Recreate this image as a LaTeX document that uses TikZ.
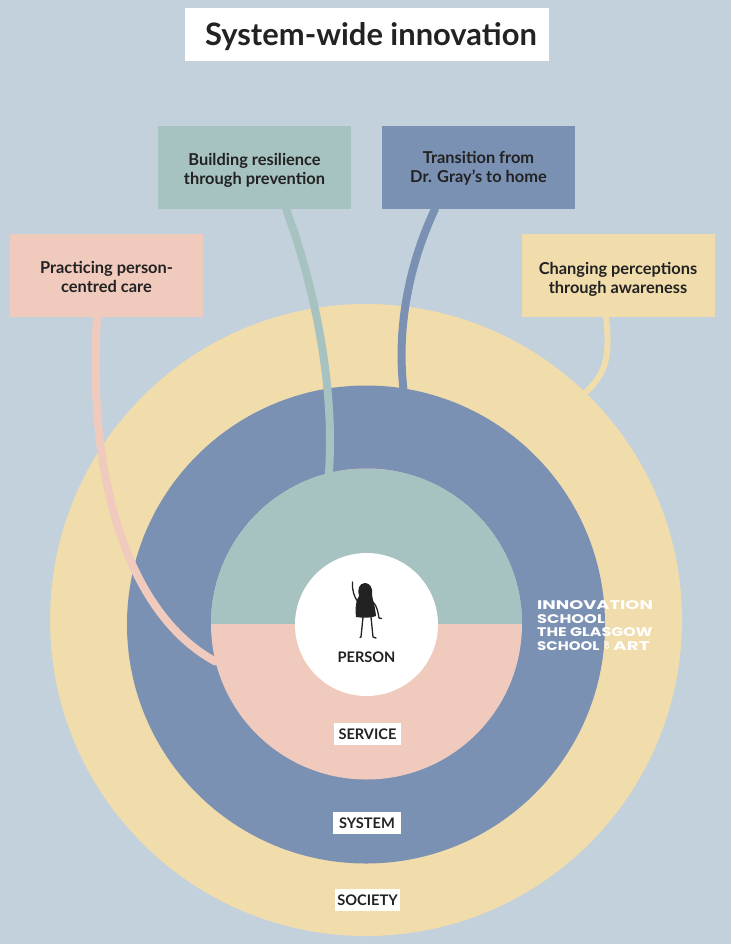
\documentclass[tikz,border=0pt]{standalone}
\usepackage{fontspec}
\setmainfont{Lato}
\newfontfamily\logofont{Poppins}
\definecolor{bgc}{HTML}{C3D1DC}
\definecolor{yelc}{HTML}{F1DCAC}
\definecolor{bluc}{HTML}{7A91B3}
\definecolor{grec}{HTML}{A6C2C1}
\definecolor{pinkc}{HTML}{EFCABD}
\definecolor{ink}{HTML}{222222}
\newcommand\shiftlines[2]{\raisebox{#1}[0pt][0pt]{\begin{tabular}{@{}c@{}}#2\end{tabular}}}
\tikzset{
  ring/.style={circle,inner sep=0pt,outer sep=0pt,minimum size=#1},
  topic/.style={minimum width=193pt,minimum height=83pt,inner sep=0pt,outer sep=0pt,
     text=ink,font=\fontsize{16.4}{19}\selectfont\bfseries},
  tag/.style={fill=white,inner sep=0pt,minimum height=22pt,text=ink,font=\fontsize{14.6}{16}\selectfont\bfseries},
  link/.style={line width=#1,line cap=round}
}
\begin{document}
\begin{tikzpicture}[x=1pt,y=-1pt]
\useasboundingbox[fill=bgc] (0,0) rectangle (731,944);
% rings
\node[ring=632pt,fill=yelc] (society) at (366,620) {};
\node[topic,fill=yelc] (tperc) at (618,275.5) {\shiftlines{-9pt}{Changing perceptions\\through awareness}};
\draw[link=6pt,yelc] ([xshift=-12pt]tperc.south) .. controls +(5,45) and +(18,-18) .. (society.46.4);
\node[ring=478pt,fill=bluc] (system) at (366,624.5) {};
\node[ring=311pt,fill=pinkc,path picture={
   \fill[grec] (path picture bounding box.west) rectangle (path picture bounding box.north east);}] (service) at (366.5,624) {};
\node[ring=143pt,fill=white] (person) at (366.5,624.5) {};
% topic boxes
\node[topic,fill=pinkc] (tcare) at (106.5,275.5) {\shiftlines{-8pt}{Practicing person-\\centred care}};
\node[topic,fill=grec] (tres) at (254.5,167.5) {\shiftlines{-8pt}{Building resilience\\through prevention}};
\node[topic,fill=bluc] (ttrans) at (478.5,167.5) {\shiftlines{-6pt}{Transition from\\Dr. Gray’s to home}};
% links
\draw[link=8pt,pinkc] ([xshift=-9.5pt]tcare.south) .. controls +(-10,163) and +(-87,-47) .. (service.194);
\draw[link=8pt,grec] ([xshift=31.5pt]tres.south) .. controls +(30,81) and +(6,-83) .. (service.104);
\draw[link=8pt,bluc] ([xshift=-43.5pt]ttrans.south) .. controls +(-25,53) and +(-7,-63) .. (system.81);
% figure
\fill[ink] (365,583) .. controls (370,583) and (373,588) .. (372,594)
  .. controls (372,598) and (375,605) .. (376,616) .. controls (372,618) and (362,618) .. (356,617)
  .. controls (355,608) and (356,600) .. (359,596) .. controls (357,590) and (359,583) .. (365,583) -- cycle;
\draw[ink,line width=1.3pt,line cap=round,line join=round] (358,602) .. controls (354,597) and (352,590) .. (352.5,582);
\draw[ink,line width=1.3pt,line cap=round,line join=round] (373,602) .. controls (377,606) and (378,612) .. (379,618) -- (381.5,618.5);
\draw[ink,line width=1.3pt,line cap=round,line join=round] (363,617) -- (361,637) -- (360,637.5);
\draw[ink,line width=1.3pt,line cap=round,line join=round] (371,617) -- (373,637) -- (376,638);
% labels
\node[text=ink,font=\fontsize{14.6}{16}\selectfont\bfseries] (lperson) at (366.5,657.5) {PERSON};
\node[tag,minimum width=67pt] (lservice) at (367.5,734) {SERVICE};
\node[tag,minimum width=68pt] (lsystem) at (367,823) {SYSTEM};
\node[tag,minimum width=65pt] (lsociety) at (367.5,900) {SOCIETY};
% title
\node[fill=white,inner sep=0pt,minimum width=364pt,minimum height=53pt,text=ink,font=\fontsize{30.9}{32}\selectfont\bfseries] (title) at (367,34.5) {\hspace*{8pt}\raisebox{-11pt}[0pt][0pt]{System-wide innovation}};
% logo
\node[anchor=north west,inner sep=0pt,text=white,align=left,font=\logofont\bfseries\fontsize{12.5}{13.5}\selectfont] (logo) at (537,600.5) {%
  \scalebox{1.43}[1]{INNOVATION}\\
  \scalebox{1.3}[1]{SCHOOL}\\
  \scalebox{1.27}[1]{THE GLASGOW}\\
  \scalebox{1.2}[1]{SCHOOL}\hspace{5pt}\raisebox{0.5pt}{\rotatebox{90}{\fontsize{6.5}{6}\selectfont OF}}\hspace{4pt}\scalebox{1.48}[1]{ART}};
\end{tikzpicture}
\end{document}
